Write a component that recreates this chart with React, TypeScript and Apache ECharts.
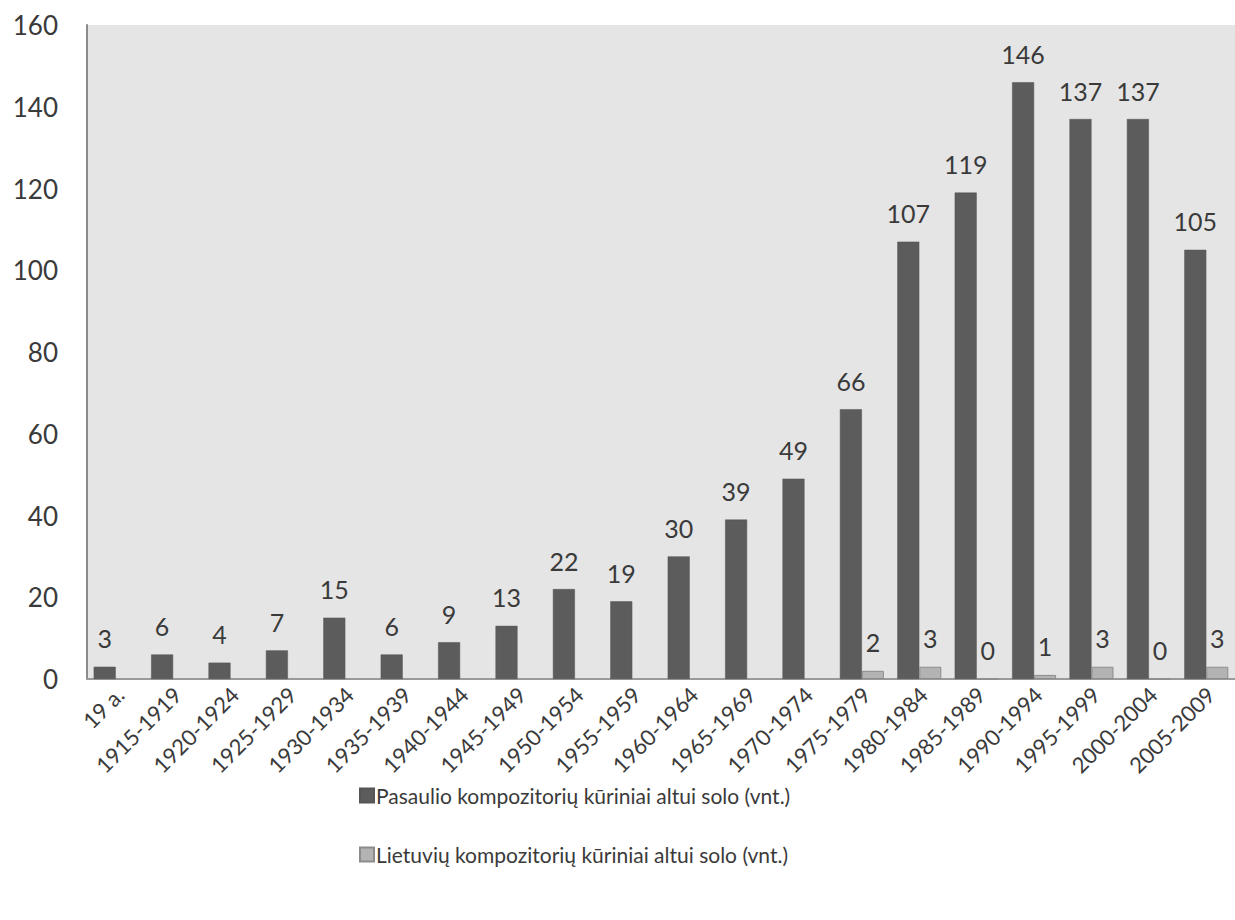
import React, { useEffect, useRef } from "react";
import * as echarts from "echarts";

const categories = [
  "19 a.", "1915-1919", "1920-1924", "1925-1929", "1930-1934", "1935-1939",
  "1940-1944", "1945-1949", "1950-1954", "1955-1959", "1960-1964", "1965-1969",
  "1970-1974", "1975-1979", "1980-1984", "1985-1989", "1990-1994", "1995-1999",
  "2000-2004", "2005-2009",
];

const worldWorks = [3, 6, 4, 7, 15, 6, 9, 13, 22, 19, 30, 39, 49, 66, 107, 119, 146, 137, 137, 105];

const lithuanianWorks: (number | null)[] = [
  null, null, null, null, null, null, null, null, null, null, null, null, null,
  2, 3, 0, 1, 3, 0, 3,
];

const seriesNames = [
  "Pasaulio kompozitorių kūriniai altui solo (vnt.)",
  "Lietuvių kompozitorių kūriniai altui solo (vnt.)",
];

const yTicks = { min: 0, max: 160, interval: 20 };

const FONT = "Lato, 'Open Sans', sans-serif";
const TEXT = "#3a3a3a";

export default function App() {
  const ref = useRef<HTMLDivElement>(null);

  useEffect(() => {
    if (!ref.current) return;
    const chart = echarts.init(ref.current, undefined, { renderer: "svg" });
    chart.setOption({
      animation: false,
      backgroundColor: "#ffffff",
      textStyle: { fontFamily: FONT },
      grid: {
        left: 87,
        top: 25,
        right: -8,
        bottom: 241,
        show: true,
        backgroundColor: "#e5e5e5",
        borderWidth: 0,
      },
      legend: {
        orient: "vertical",
        left: 354,
        top: 780,
        itemWidth: 14,
        itemHeight: 14,
        itemGap: 38,
        icon: "rect",
        textStyle: { fontFamily: FONT, fontSize: 21, color: TEXT, padding: [0, 0, 0, -3] },
        data: seriesNames,
      },
      xAxis: {
        type: "category",
        data: categories,
        axisLine: { show: true, lineStyle: { color: "#9a9a9a", width: 2 } },
        axisTick: { show: false },
        axisLabel: {
          interval: 0,
          rotate: 45,
          margin: 16,
          padding: [0, -6, 0, 0],
          fontFamily: FONT,
          fontSize: 22,
          color: TEXT,
        },
        splitLine: { show: false },
      },
      yAxis: {
        type: "value",
        min: yTicks.min,
        max: yTicks.max,
        interval: yTicks.interval,
        axisLine: { show: true, lineStyle: { color: "#8a8a8a", width: 2 } },
        axisTick: { show: false },
        axisLabel: { margin: 29, fontFamily: FONT, fontSize: 26, color: TEXT },
        splitLine: { show: false },
      },
      series: [
        {
          name: seriesNames[0],
          type: "bar",
          data: worldWorks,
          barWidth: 22,
          barGap: "0%",
          itemStyle: { color: "#5c5c5c", borderColor: "#555555", borderWidth: 0.5 },
          label: {
            show: true,
            position: "top",
            distance: 16,
            fontFamily: FONT,
            fontSize: 25,
            color: TEXT,
          },
        },
        {
          name: seriesNames[1],
          type: "bar",
          data: lithuanianWorks.map((v) => (v === null ? "-" : v)),
          barWidth: 22,
          barGap: "0%",
          itemStyle: { color: "#b3b3b3", borderColor: "#8c8c8c", borderWidth: 1 },
          label: {
            show: true,
            position: "top",
            distance: 16,
            fontFamily: FONT,
            fontSize: 25,
            color: TEXT,
          },
        },
      ],
    });
    return () => chart.dispose();
  }, []);

  return (
    <div
      ref={ref}
      style={{ position: "absolute", left: 0, top: 0, width: 1235, height: 920 }}
    />
  );
}
